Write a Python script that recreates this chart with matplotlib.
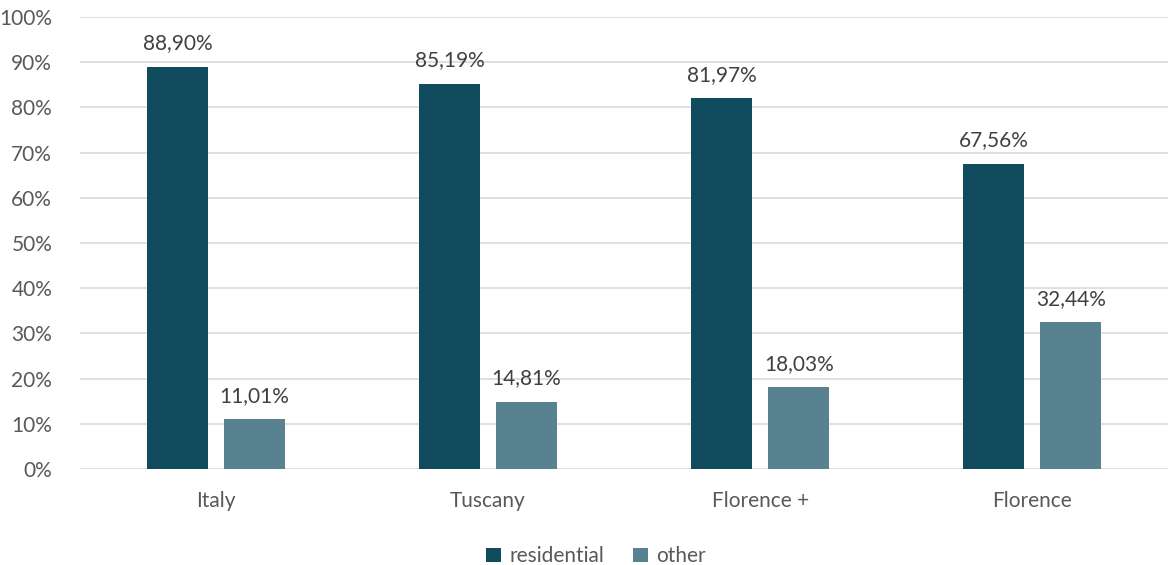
import matplotlib
matplotlib.use("Agg")
import matplotlib.pyplot as plt
import numpy as np

categories = ["Italy", "Tuscany", "Florence +", "Florence"]
residential = [88.90, 85.19, 81.97, 67.56]
other = [11.01, 14.81, 18.03, 32.44]

plt.rcParams['font.family'] = ['Lato', 'DejaVu Sans']
text_color = '#595959'

fig = plt.figure(figsize=(11.69, 5.65), dpi=100)
ax = fig.add_axes([0.0684, 0.170, 0.931, 0.800])

x = np.arange(len(categories))
w = 0.224
off = 0.1415
b1 = ax.bar(x - off, residential, w, color='#104C5D', label='residential', zorder=3)
b2 = ax.bar(x + off, other, w, color='#58828F', label='other', zorder=3)

for bars, vals in ((b1, residential), (b2, other)):
    for bar, v in zip(bars, vals):
        ax.text(bar.get_x() + bar.get_width() / 2, v + 3.0,
                f"{v:.2f}%".replace('.', ','),
                ha='center', va='bottom', fontsize=15, color='#404040')

ax.set_xlim(-0.5, len(categories) - 0.5)
ax.set_ylim(0, 100)
ax.set_yticks(range(0, 101, 10))
ax.set_yticklabels([f"{t}%" for t in range(0, 101, 10)])
ax.set_xticks(x)
ax.set_xticklabels(categories)
ax.tick_params(axis='both', length=0, labelsize=15, labelcolor=text_color)
ax.tick_params(axis='y', pad=20)
ax.tick_params(axis='x', pad=16)
ax.grid(axis='y', color='#D9D9D9', linewidth=1.2, zorder=0)
for s in ax.spines.values():
    s.set_visible(False)

fig.legend(loc='upper center', bbox_to_anchor=(0.51, 0.066), ncol=2, frameon=False,
           fontsize=15, labelcolor=text_color, handlelength=0.7, handleheight=0.7,
           handletextpad=0.4, columnspacing=1.4)

fig.savefig("out.png", dpi=100)
